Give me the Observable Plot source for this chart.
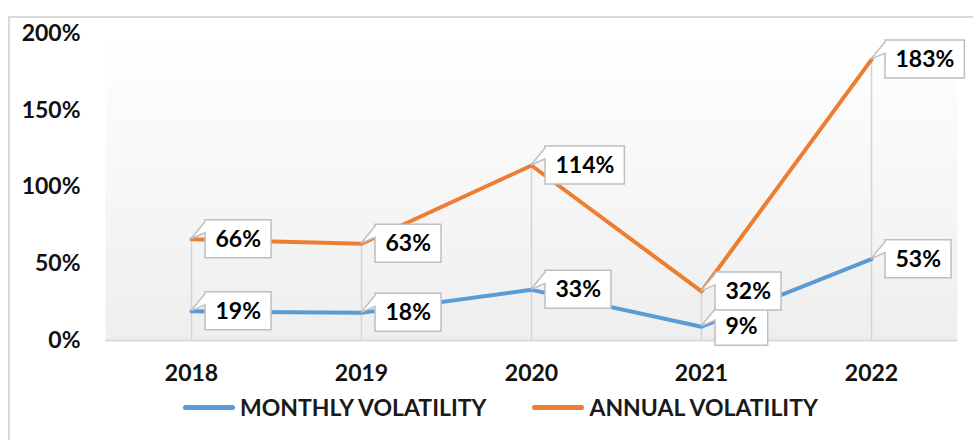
<!DOCTYPE html>
<html>
<head>
<meta charset="utf-8">
<script src="https://cdn.jsdelivr.net/npm/d3@7"></script>
<script src="https://cdn.jsdelivr.net/npm/@observablehq/plot@0.6"></script>
<style>
  html, body { margin: 0; padding: 0; background: #fff; overflow: hidden; width: 973px; height: 440px; }
  #frame { position: absolute; left: 8px; top: 16px; width: 1000px; height: 500px; border: 2px solid #d9d9d9; box-sizing: border-box; }
  #chart { position: absolute; left: 0; top: 0; }
  #legend { position: absolute; left: 183px; top: 393px; display: flex; align-items: center; font-family: Lato, "Open Sans", sans-serif; font-weight: bold; font-size: 23px; color: #1a1a1a; }
  .item { display: flex; align-items: center; margin-right: 46px; }
  .swatch { width: 52px; height: 5px; border-radius: 3px; margin-right: 5px; }
</style>
</head>
<body>
<div id="frame"></div>
<div id="chart"></div>
<div id="legend"></div>
<script>
const years = ["2018", "2019", "2020", "2021", "2022"];
const monthly = [0.19, 0.18, 0.33, 0.09, 0.53];
const annual = [0.66, 0.63, 1.14, 0.32, 1.83];
const seriesNames = ["MONTHLY VOLATILITY", "ANNUAL VOLATILITY"];
const seriesColors = ["#5B9BD5", "#ED7D31"];
const yTicks = [0, 0.5, 1, 1.5, 2];

const rows = years.flatMap((year, i) => [
  {year, value: monthly[i], series: seriesNames[0]},
  {year, value: annual[i], series: seriesNames[1]}
]);
const tops = years.map((year, i) => ({year, value: Math.max(monthly[i], annual[i])}));
const fmt = d3.format(".0%");

const plot = Plot.plot({
  width: 973,
  height: 392,
  marginLeft: 105,
  marginRight: 16,
  marginTop: 33,
  marginBottom: 52,
  style: {fontFamily: "Lato, 'Open Sans', sans-serif", fontWeight: "bold", fontSize: "23px", color: "#111", background: "transparent", overflow: "visible"},
  x: {type: "point", domain: years, padding: 0.5, tickSize: 0, tickPadding: 24, label: null},
  y: {domain: [0, 2], ticks: yTicks, tickFormat: fmt, tickSize: 0, tickPadding: 25, label: null},
  color: {domain: seriesNames, range: seriesColors},
  marks: [
    Plot.frame({fill: "url(#plotBg)", stroke: "none"}),
    Plot.ruleX(tops, {x: "year", y1: 0, y2: "value", stroke: "#d4d4d4", strokeWidth: 1.5}),
    Plot.ruleY([0], {stroke: "#d9d9d9", strokeWidth: 2}),
    Plot.line(rows, {x: "year", y: "value", z: "series", stroke: "series", strokeWidth: 4, strokeLinejoin: "round", strokeLinecap: "round"}),
    Plot.text(rows, {x: "year", y: "value", text: d => fmt(d.value), dx: 24, textAnchor: "start", fill: "#000", fontSize: 23, fontWeight: "bold", ariaLabel: "callout"})
  ]
});
document.getElementById("chart").appendChild(plot);

// gradient background for the plot area
const svg = d3.select(plot);
const defs = svg.insert("defs", ":first-child");
const grad = defs.append("linearGradient").attr("id", "plotBg").attr("x1", 0).attr("y1", 0).attr("x2", 0).attr("y2", 1);
grad.append("stop").attr("offset", "0%").attr("stop-color", "#ffffff");
grad.append("stop").attr("offset", "100%").attr("stop-color", "#eeeeee");

// callout boxes behind the labels
const labelTexts = new Set(rows.map(d => fmt(d.value)));
let labelGroup = plot.querySelector('g[aria-label="callout"]');
if (!labelGroup) {
  labelGroup = Array.from(plot.querySelectorAll("g")).find(g => {
    const ts = Array.from(g.children).filter(c => c.tagName === "text");
    return ts.length === rows.length && ts.every(t => labelTexts.has(t.textContent)) && !/axis/.test(g.getAttribute("aria-label") || "");
  });
}
const yScale = plot.scale("y");
const xScale = plot.scale("x");
const svgRect = plot.getBoundingClientRect();
const boxes = d3.select(labelGroup.parentNode).insert("g", () => labelGroup).attr("aria-label", "callout boxes");
d3.select(labelGroup).selectAll("text").each(function(d, k) {
  const r = this.getBoundingClientRect();
  const row = rows[k];
  const px = xScale.apply ? xScale.apply(row.year) : r.left - svgRect.left - 24;
  const py = yScale.apply ? yScale.apply(row.value) : (r.top + r.bottom) / 2 - svgRect.top;
  const left = px + 14;
  const right = r.right - svgRect.left + 10;
  const top = py - 19, bottom = py + 19;
  const path = `M${left},${top}H${right}V${bottom}H${left}V${top + 13}L${px},${py}L${left},${top + 2}Z`;
  boxes.append("path").attr("d", path).attr("fill", "#fff").attr("stroke", "#bfbfbf").attr("stroke-width", 1.5).attr("stroke-linejoin", "miter");
});

// legend
const legend = d3.select("#legend");
seriesNames.forEach((name, i) => {
  const item = legend.append("div").attr("class", "item");
  item.append("div").attr("class", "swatch").style("background", seriesColors[i]);
  item.append("span").text(name);
});
</script>
</body>
</html>
